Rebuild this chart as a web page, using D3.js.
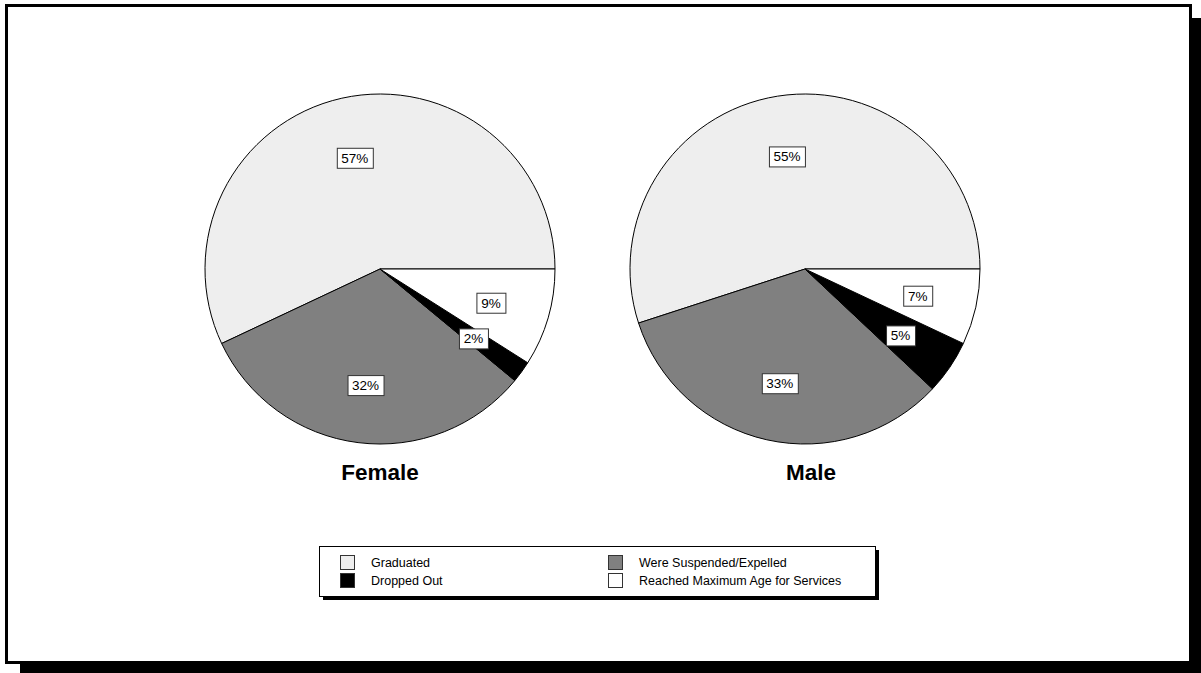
<!DOCTYPE html>
<html>
<head>
<meta charset="utf-8">
<script src="https://cdn.jsdelivr.net/npm/d3@7"></script>
<style>
  html, body { margin: 0; padding: 0; background: #fff; }
  svg { display: block; }
</style>
</head>
<body>
<script>
// Outcome categories and their fills
const categories = ["Graduated", "Were Suspended/Expelled", "Dropped Out", "Reached Maximum Age for Services"];
const colors = ["#eeeeee", "#808080", "#000000", "#ffffff"];

// Percent of exits by outcome, per group
const groups = ["Female", "Male"];
const femaleValues = [57, 32, 2, 9];
const maleValues = [55, 33, 5, 7];

// Legend ordering (two columns, two rows)
const legendOrder = ["Graduated", "Were Suspended/Expelled", "Dropped Out", "Reached Maximum Age for Services"];

const W = 1201, H = 673;
const svg = d3.select("body").append("svg").attr("width", W).attr("height", H);

// Framed panel with a drop shadow
svg.append("rect").attr("x", 20).attr("y", 18).attr("width", 1181).attr("height", 655).attr("fill", "#000");
svg.append("rect").attr("x", 6.5).attr("y", 5.5).attr("width", 1184).attr("height", 657)
  .attr("fill", "#fff").attr("stroke", "#000").attr("stroke-width", 3);

const R = 175;
const color = d3.scaleOrdinal().domain(categories).range(colors);

// Slices start at 3 o'clock and run counter-clockwise
const pie = d3.pie().sort(null).value(d => d.value)
  .startAngle(Math.PI / 2).endAngle(Math.PI / 2 - 2 * Math.PI);
const arc = d3.arc().innerRadius(0).outerRadius(R);
const labelArc = d3.arc().innerRadius(R * 0.66).outerRadius(R * 0.66);

const centers = d3.scalePoint().domain(groups).range([380, 805]);
const valuesByGroup = { Female: femaleValues, Male: maleValues };
const titleX = { Female: 380, Male: 811 };

groups.forEach(g => {
  const data = categories.map((c, i) => ({ cat: c, value: valuesByGroup[g][i] }));
  const cx = centers(g), cy = 269;
  const gp = svg.append("g").attr("transform", `translate(${cx},${cy})`);
  const arcs = pie(data);
  gp.selectAll("path").data(arcs).join("path")
    .attr("d", arc)
    .attr("fill", d => color(d.data.cat))
    .attr("stroke", "#000").attr("stroke-width", 1);

  const lbl = gp.selectAll("g.lbl").data(arcs).join("g").attr("class", "lbl")
    .attr("transform", d => {
      const [x, y] = labelArc.centroid(d);
      return `translate(${x},${y + 1.5})`;
    });
  lbl.append("text")
    .attr("text-anchor", "middle").attr("dy", "0.36em")
    .attr("font-family", "Arial, 'Liberation Sans', sans-serif").attr("font-size", 13.5)
    .attr("fill", "#000")
    .text(d => d.data.value + "%");
  lbl.each(function() {
    const t = d3.select(this).select("text");
    const bb = t.node().getBBox();
    const w = Math.round(bb.width) + 9, h = 20;
    d3.select(this).insert("rect", "text")
      .attr("x", -w / 2 + 0.5).attr("y", -h / 2 + 0.5).attr("width", w).attr("height", h)
      .attr("fill", "#fff").attr("stroke", "#333").attr("stroke-width", 1);
  });

  svg.append("text")
    .attr("x", titleX[g]).attr("y", 480)
    .attr("text-anchor", "middle")
    .attr("font-family", "Arial, 'Liberation Sans', sans-serif")
    .attr("font-weight", "bold").attr("font-size", 22.5)
    .text(g);
});

// Legend box with shadow
const lg = svg.append("g");
lg.append("rect").attr("x", 323).attr("y", 550).attr("width", 556).attr("height", 50).attr("fill", "#000");
lg.append("rect").attr("x", 319.5).attr("y", 546.5).attr("width", 556).attr("height", 50)
  .attr("fill", "#fff").attr("stroke", "#000").attr("stroke-width", 1);

const colX = d3.scaleOrdinal().domain([0, 1]).range([340, 608]);
const rowY = d3.scaleOrdinal().domain([0, 1]).range([555, 573]);
legendOrder.forEach((c, i) => {
  const col = i % 2, row = Math.floor(i / 2);
  const x = colX(col), y = rowY(row);
  lg.append("rect").attr("x", x + 0.5).attr("y", y + 0.5).attr("width", 14).attr("height", 14)
    .attr("fill", color(c)).attr("stroke", "#333").attr("stroke-width", 1);
  lg.append("text").attr("x", x + 31).attr("y", y + 12)
    .attr("font-family", "Arial, 'Liberation Sans', sans-serif").attr("font-size", 12.5)
    .attr("fill", "#000").text(c);
});
</script>
</body>
</html>
